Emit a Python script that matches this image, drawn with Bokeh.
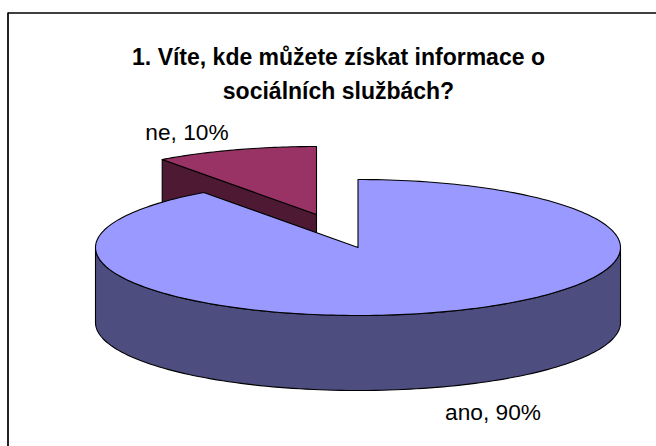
import numpy as np
from bokeh.plotting import figure
from bokeh.models import Range1d
from bokeh.core.properties import value
from bokeh.embed import file_html
from bokeh.resources import INLINE

# data
categories = ["ano", "ne"]
shares = [90, 10]
title_lines = ["1. Víte, kde můžete získat informace o", "sociálních službách?"]
top_colors = ["#9999FF", "#993366"]
side_colors = ["#4D4D80", "#4D1933"]

W, H = 656, 446


def Y(py):
    return H - py


p = figure(width=W, height=H, output_backend="svg", toolbar_location=None,
           x_range=Range1d(0, W), y_range=Range1d(0, H), min_border=0,
           outline_line_color=None)
p.axis.visible = False
p.grid.visible = False
p.background_fill_color = "white"
p.border_fill_color = "white"

RX, RY, DEPTH = 262.5, 68, 75
centers = {"ano": (357.5, 247.0), "ne": (316.0, 214.0)}


def pt(cx, cy, a, d=0):
    # angle a clockwise from 12 o'clock, in radians; d is the extrusion downward
    return cx + RX * np.sin(a), cy - RY * np.cos(a) + d


def outline(xs, ys, fill):
    p.patch(list(xs), [Y(y) for y in ys], fill_color=fill,
            line_color="#000000", line_width=1.1, line_join="round")


total = sum(shares)
ne_start = -2 * np.pi * shares[1] / total  # "ne" sweeps from here to 12 o'clock
ano_end = 2 * np.pi * shares[0] / total

# --- "ne" slice (behind) ---
cx, cy = centers["ne"]
ax, ay = pt(cx, cy, ne_start)
outline([cx, ax, ax, cx], [cy, ay, ay + DEPTH, cy + DEPTH], side_colors[1])
arc = np.linspace(ne_start, 0, 40)
xs, ys = pt(cx, cy, arc)
outline([cx] + list(xs), [cy] + list(ys), top_colors[1])

# --- "ano" slice ---
cx, cy = centers["ano"]
arc = np.linspace(np.pi / 2, 3 * np.pi / 2, 120)
xt, yt = pt(cx, cy, arc)
xb, yb = pt(cx, cy, arc[::-1], DEPTH)
outline(list(xt) + list(xb), list(yt) + list(yb), side_colors[0])
arc = np.linspace(0, ano_end, 240)
xs, ys = pt(cx, cy, arc)
outline([cx] + list(xs), [cy] + list(ys), top_colors[0])

# frame: only top and left edges are visible in the reference
p.line([7.5, 7.5], [Y(12), Y(446)], line_color="#222222", line_width=2)
p.line([7.5, 656], [Y(12.5), Y(12.5)], line_color="#000000", line_width=1.5)

font = value("Liberation Sans")
p.text([338, 338], [Y(56.5), Y(90)], text=title_lines, text_font=font,
       text_font_size="23px", text_font_style="bold", text_align="center",
       text_baseline="middle", text_color="#000000")
p.text([186.5], [Y(131)], text=[f"{categories[1]}, {shares[1]}%"], text_font=font,
       text_font_size="22.7px", text_align="center", text_baseline="middle", text_color="#000000")
p.text([492.5], [Y(411.5)], text=[f"{categories[0]}, {shares[0]}%"], text_font=font,
       text_font_size="22.7px", text_align="center", text_baseline="middle", text_color="#000000")

open("out.html", "w").write(file_html(p, INLINE))
